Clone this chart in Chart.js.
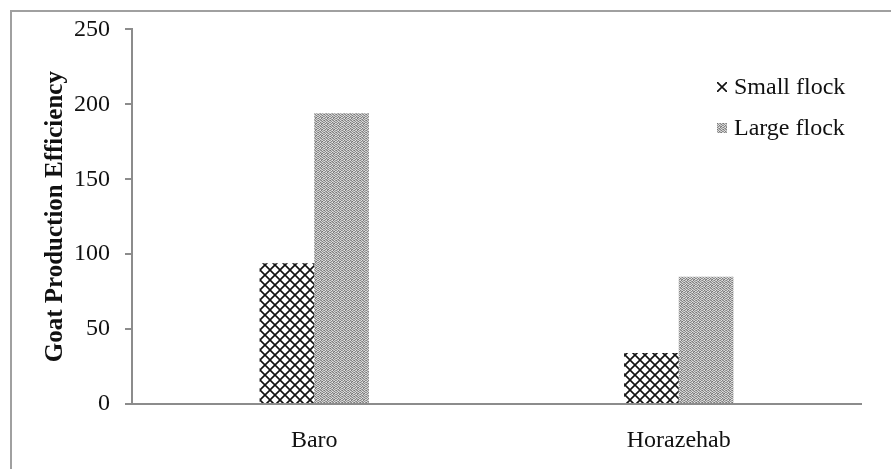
<!DOCTYPE html>
<html lang="en">
<head>
  <meta charset="UTF-8">
  <title>Goat Production Efficiency</title>
  <script src="https://cdn.jsdelivr.net/npm/chart.js"></script>
  <style>
    html, body {
      margin: 0;
      padding: 0;
      background: #fff;
      overflow: hidden;
    }
    .frame {
      position: absolute;
      left: 10px;
      top: 10px;
      width: 900px;
      height: 480px;
      border: 2px solid #a0a0a0;
      box-sizing: border-box;
    }
    .chart-container {
      position: absolute;
      left: 0;
      top: 0;
      width: 891px;
      height: 469px;
    }
    .legend {
      position: absolute;
      left: 717px;
      top: 71px;
      font-family: 'Liberation Serif', 'Times New Roman', serif;
      font-size: 24px;
      color: #111;
    }
    .legend-item {
      display: flex;
      align-items: center;
      height: 31px;
      margin-bottom: 10px;
    }
    .legend-item canvas {
      margin-right: 7px;
    }
  </style>
</head>
<body>
  <div class="frame"></div>
  <div class="chart-container">
    <canvas id="barChart"></canvas>
  </div>
  <div class="legend" id="legend"></div>

  <script>
    const categories = ['Baro', 'Horazehab'];
    const smallFlock = [94, 34];
    const largeFlock = [194, 85];
    const seriesNames = ['Small flock', 'Large flock'];
    const yTicks = [0, 50, 100, 150, 200, 250];

    // crosshatch fill for small flock
    function crossPattern() {
      const c = document.createElement('canvas');
      c.width = 10; c.height = 10;
      const g = c.getContext('2d');
      g.strokeStyle = '#111';
      g.lineWidth = 1.6;
      g.beginPath();
      g.moveTo(-1, -1); g.lineTo(11, 11);
      g.moveTo(11, -1); g.lineTo(-1, 11);
      g.stroke();
      return g.createPattern(c, 'repeat');
    }

    // fine grey stipple for large flock
    function stipplePattern() {
      const shades = [
        0x77, 0xd0, 0xa0, 0x88, 0xe0, 0x99,
        0xc8, 0x90, 0xdd, 0xb8, 0x80, 0xcc,
        0x98, 0xe4, 0x7c, 0xc0, 0xd8, 0x8a,
        0xd4, 0x86, 0xbc, 0x94, 0x74, 0xe0,
        0x82, 0xc4, 0xe2, 0x7a, 0xcf, 0xa4,
        0xdc, 0x9c, 0x84, 0xd2, 0x96, 0xc2
      ];
      const c = document.createElement('canvas');
      c.width = 6; c.height = 6;
      const g = c.getContext('2d');
      shades.forEach((s, i) => {
        g.fillStyle = 'rgb(' + s + ',' + s + ',' + s + ')';
        g.fillRect(i % 6, Math.floor(i / 6), 1, 1);
      });
      return g.createPattern(c, 'repeat');
    }

    const fills = [crossPattern(), stipplePattern()];
    const axisColor = '#8c8c8c';
    const serif = "'Liberation Serif', 'Times New Roman', serif";

    const config = {
      type: 'bar',
      data: {
        labels: categories,
        datasets: [{
          label: seriesNames[0],
          data: smallFlock,
          backgroundColor: fills[0],
          borderWidth: 0,
          categoryPercentage: 0.3,
          barPercentage: 1.0
        }, {
          label: seriesNames[1],
          data: largeFlock,
          backgroundColor: fills[1],
          borderWidth: 0,
          categoryPercentage: 0.3,
          barPercentage: 1.0
        }]
      },
      options: {
        responsive: true,
        maintainAspectRatio: false,
        animation: false,
        layout: {
          padding: { top: 29, right: 30, bottom: 0, left: 0 }
        },
        plugins: {
          legend: { display: false },
          tooltip: { enabled: false }
        },
        scales: {
          x: {
            grid: { display: false, drawTicks: false },
            border: { display: true, color: axisColor, width: 2 },
            ticks: {
              color: '#111',
              padding: 22,
              font: { family: serif, size: 24 }
            },
            afterFit: function(scale) { scale.height = 65; }
          },
          y: {
            min: 0,
            max: 250,
            afterBuildTicks: function(scale) {
              scale.ticks = yTicks.map(v => ({ value: v }));
            },
            grid: {
              drawOnChartArea: false,
              drawTicks: true,
              tickLength: 7,
              tickColor: axisColor,
              lineWidth: 2
            },
            border: { display: true, color: axisColor, width: 2 },
            ticks: {
              color: '#111',
              padding: 15,
              font: { family: serif, size: 24 }
            },
            title: {
              display: true,
              text: 'Goat Production Efficiency',
              color: '#111',
              padding: { top: 41, bottom: 0 },
              font: { family: serif, size: 25, weight: 'bold' }
            },
            afterFit: function(scale) { scale.width = 132; }
          }
        }
      }
    };

    const ctx = document.getElementById('barChart').getContext('2d');
    const chart = new Chart(ctx, config);

    // legend with patterned swatches
    const legend = document.getElementById('legend');
    seriesNames.forEach((name, i) => {
      const item = document.createElement('div');
      item.className = 'legend-item';
      const sw = document.createElement('canvas');
      sw.width = 10; sw.height = 10;
      const g = sw.getContext('2d');
      g.fillStyle = fills[i];
      g.fillRect(0, 0, 10, 10);
      item.appendChild(sw);
      const label = document.createElement('span');
      label.textContent = name;
      item.appendChild(label);
      legend.appendChild(item);
    });
  </script>
</body>
</html>
